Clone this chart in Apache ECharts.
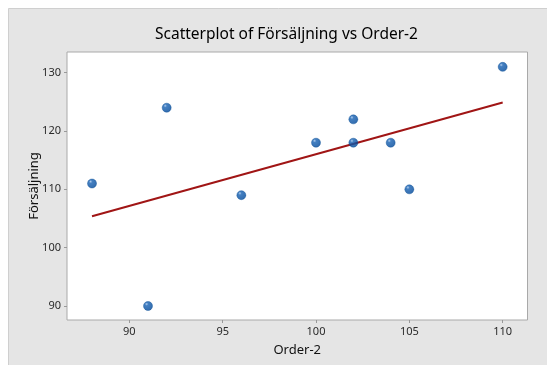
<!DOCTYPE html>
<html>
<head>
<meta charset="utf-8">
<script src="https://cdn.jsdelivr.net/npm/echarts@6/dist/echarts.min.js"></script>
<style>
html,body{margin:0;padding:0;background:#fff;}
#c{width:547px;height:365px;}
</style>
</head>
<body>
<div id="c"></div>
<script>
const titleText = 'Scatterplot of Försäljning vs Order-2';
const xName = 'Order-2';
const yName = 'Försäljning';
const orderX = [88, 91, 92, 96, 100, 102, 102, 104, 105, 110];
const salesY = [111, 90, 124, 109, 118, 122, 118, 118, 110, 131];
const fitX = [88, 110];
const fitY = [105.4, 124.9];
const xTicks = [90, 95, 100, 105, 110];
const yTicks = [90, 100, 110, 120, 130];

const chart = echarts.init(document.getElementById('c'), null, {renderer: 'canvas'});
const font = '"Noto Sans", "Open Sans", sans-serif';
chart.setOption({
  backgroundColor: '#ffffff',
  animation: false,
  graphic: [{
    type: 'rect', z: -10, silent: true,
    shape: {x: 8.5, y: 8.5, width: 560, height: 380},
    style: {fill: '#e5e5e5', stroke: '#cfcfcf', lineWidth: 1}
  }],
  title: {
    text: titleText, left: 150, top: 22,
    textStyle: {fontFamily: font, fontSize: 15.5, fontWeight: 'normal', color: '#000'}
  },
  grid: {
    left: 67, right: 19.5, top: 52, bottom: 45,
    show: true, backgroundColor: '#ffffff', borderColor: '#a9a9a9', borderWidth: 1
  },
  xAxis: {
    type: 'value', min: 86.66, max: 111.33,
    name: xName, nameLocation: 'middle', nameGap: 24,
    nameTextStyle: {fontFamily: font, fontSize: 13, color: '#111'},
    axisLine: {show: false},
    splitLine: {show: false},
    axisLabel: {
      fontFamily: font, fontSize: 11, color: '#2a2a2a', margin: 6,
      customValues: xTicks, showMinLabel: true, showMaxLabel: true
    },
    axisTick: {show: true, length: 3, lineStyle: {color: '#999'}, customValues: xTicks}
  },
  yAxis: {
    type: 'value', min: 87.6, max: 133.55,
    name: yName, nameLocation: 'middle', nameGap: 26, nameMoveOverlap: false,
    nameTextStyle: {fontFamily: font, fontSize: 13, color: '#111'},
    axisLine: {show: false},
    splitLine: {show: false},
    axisLabel: {fontFamily: font, fontSize: 11, color: '#2a2a2a', margin: 6, customValues: yTicks},
    axisTick: {show: true, length: 3, lineStyle: {color: '#999'}, customValues: yTicks}
  },
  series: [
    {
      type: 'line',
      data: fitX.map((x, i) => [x, fitY[i]]),
      showSymbol: false, symbol: 'none',
      lineStyle: {color: '#a01515', width: 2},
      z: 2
    },
    {
      type: 'scatter',
      data: orderX.map((x, i) => [x, salesY[i]]),
      symbol: 'circle', symbolSize: 9,
      itemStyle: {
        color: {
          type: 'radial', x: 0.35, y: 0.3, r: 0.7,
          colorStops: [{offset: 0, color: '#9cc0ea'}, {offset: 0.25, color: '#1560b2'}, {offset: 1, color: '#00489a'}]
        },
        borderColor: '#064a94', borderWidth: 0.5
      },
      z: 3
    }
  ]
});
</script>
</body>
</html>
